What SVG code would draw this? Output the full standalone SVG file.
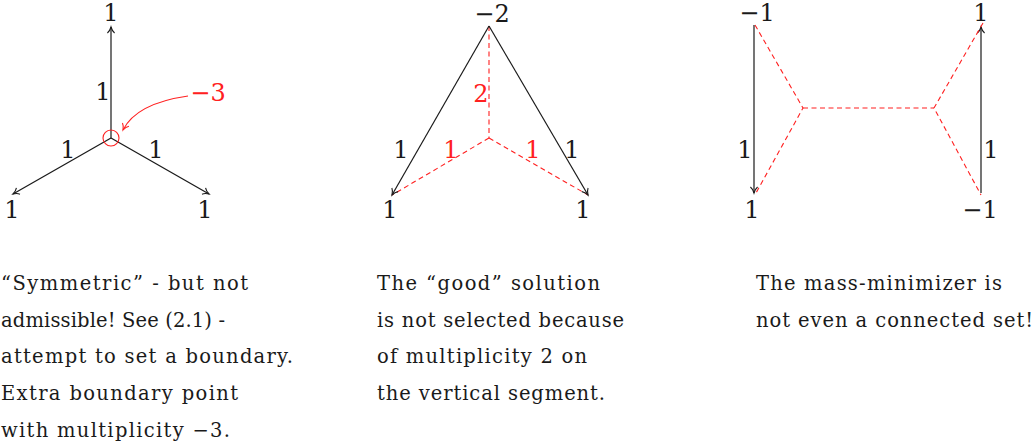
<svg xmlns="http://www.w3.org/2000/svg" width="1035" height="445" viewBox="0 0 1035 445">
<style>
.lbl{font-family:'DejaVu Serif',serif;font-size:24px;fill:#1a1a1a;text-anchor:middle}
.red{fill:#ff2020}
.cap{font-family:'DejaVu Serif',serif;font-size:19.5px;fill:#1a1a1a}
.blk{stroke:#1a1a1a;stroke-width:1.2;fill:none}
.dash{stroke:#ff2020;stroke-width:1.1;fill:none;stroke-dasharray:5 3.5}
</style>
<defs>
<marker id="ah" markerUnits="userSpaceOnUse" markerWidth="14" markerHeight="12" viewBox="-7 -6 8 12" refX="0" refY="0" orient="auto">
<path d="M-6,-3.6 C-4.2,-1.4 -1.4,-0.4 0,0 C-1.4,0.4 -4.2,1.4 -6,3.6" stroke="#1a1a1a" stroke-width="1.1" fill="none"/>
</marker>
<marker id="ahr" markerUnits="userSpaceOnUse" markerWidth="14" markerHeight="12" viewBox="-7 -6 8 12" refX="0" refY="0" orient="auto">
<path d="M-6,-3.6 C-4.2,-1.4 -1.4,-0.4 0,0 C-1.4,0.4 -4.2,1.4 -6,3.6" stroke="#ff2020" stroke-width="1.1" fill="none"/>
</marker>
</defs>

<g id="connectors">
<line class="blk" x1="111" y1="138" x2="111" y2="27" marker-end="url(#ah)"/>
<line class="blk" x1="111" y1="138" x2="13" y2="194" marker-end="url(#ah)"/>
<line class="blk" x1="111" y1="138" x2="209" y2="194" marker-end="url(#ah)"/>
<path d="M188,96 C160,100 133,110 123,130" stroke="#ff2020" stroke-width="1.1" fill="none" marker-end="url(#ahr)"/>
<line class="dash" x1="489" y1="26" x2="489" y2="138"/>
<line class="dash" x1="489" y1="138" x2="392" y2="195"/>
<line class="dash" x1="489" y1="138" x2="588" y2="195"/>
<line class="blk" x1="489" y1="26" x2="392" y2="195" marker-end="url(#ah)"/>
<line class="blk" x1="489" y1="26" x2="588" y2="195" marker-end="url(#ah)"/>
<line class="blk" x1="754" y1="25" x2="754" y2="193" marker-end="url(#ah)"/>
<line class="blk" x1="981" y1="193" x2="981" y2="27" marker-end="url(#ah)"/>
<polyline class="dash" points="755,25 803,108 756,193"/>
<line class="dash" x1="803" y1="108" x2="934" y2="108"/>
<polyline class="dash" points="983,23 934,108 981,195"/>
</g>

<g id="panel1-nodes">
<g id="p1-center"><circle cx="111" cy="138" r="8" stroke="#ff2020" stroke-width="1.1" fill="none"/></g>
<g id="p1-top"><text class="lbl" x="111" y="21">1</text></g>
<g id="p1-bl"><text class="lbl" x="12" y="218">1</text></g>
<g id="p1-br"><text class="lbl" x="205" y="218">1</text></g>
<g id="p1-e1"><text class="lbl" x="103" y="100">1</text></g>
<g id="p1-e2"><text class="lbl" x="68" y="158">1</text></g>
<g id="p1-e3"><text class="lbl" x="156" y="158">1</text></g>
<g id="p1-m3"><text class="lbl red" x="208" y="101">−3</text></g>
</g>

<g id="panel2-nodes">
<g id="p2-top"><text class="lbl" x="492" y="22">−2</text></g>
<g id="p2-bl"><text class="lbl" x="390" y="218">1</text></g>
<g id="p2-br"><text class="lbl" x="583" y="218">1</text></g>
<g id="p2-e1"><text class="lbl red" x="481" y="102">2</text></g>
<g id="p2-e2"><text class="lbl" x="401" y="158">1</text></g>
<g id="p2-e3"><text class="lbl red" x="451" y="158">1</text></g>
<g id="p2-e4"><text class="lbl red" x="533" y="158">1</text></g>
<g id="p2-e5"><text class="lbl" x="572" y="158">1</text></g>
</g>

<g id="panel3-nodes">
<g id="p3-tl"><text class="lbl" x="757" y="21">−1</text></g>
<g id="p3-bl"><text class="lbl" x="752" y="218">1</text></g>
<g id="p3-tr"><text class="lbl" x="981" y="21">1</text></g>
<g id="p3-br"><text class="lbl" x="980" y="218">−1</text></g>
<g id="p3-e1"><text class="lbl" x="745" y="158">1</text></g>
<g id="p3-e2"><text class="lbl" x="991" y="158">1</text></g>
</g>

<g id="captions">
<g id="cap1">
<text class="cap" x="1" y="290" textLength="247" lengthAdjust="spacing">“Symmetric” - but not</text>
<text class="cap" x="1" y="327" textLength="224" lengthAdjust="spacing">admissible! See (2.1) -</text>
<text class="cap" x="1" y="363" textLength="292" lengthAdjust="spacing">attempt to set a boundary.</text>
<text class="cap" x="1" y="400" textLength="237" lengthAdjust="spacing">Extra boundary point</text>
<text class="cap" x="1" y="437" textLength="229" lengthAdjust="spacing">with multiplicity −3.</text>
</g>
<g id="cap2">
<text class="cap" x="377" y="290" textLength="223" lengthAdjust="spacing">The “good” solution</text>
<text class="cap" x="377" y="327" textLength="247" lengthAdjust="spacing">is not selected because</text>
<text class="cap" x="377" y="363" textLength="210" lengthAdjust="spacing">of multiplicity 2 on</text>
<text class="cap" x="377" y="400" textLength="228" lengthAdjust="spacing">the vertical segment.</text>
</g>
<g id="cap3">
<text class="cap" x="756" y="290" textLength="246" lengthAdjust="spacing">The mass-minimizer is</text>
<text class="cap" x="756" y="327" textLength="277" lengthAdjust="spacing">not even a connected set!</text>
</g>
</g>
</svg>
